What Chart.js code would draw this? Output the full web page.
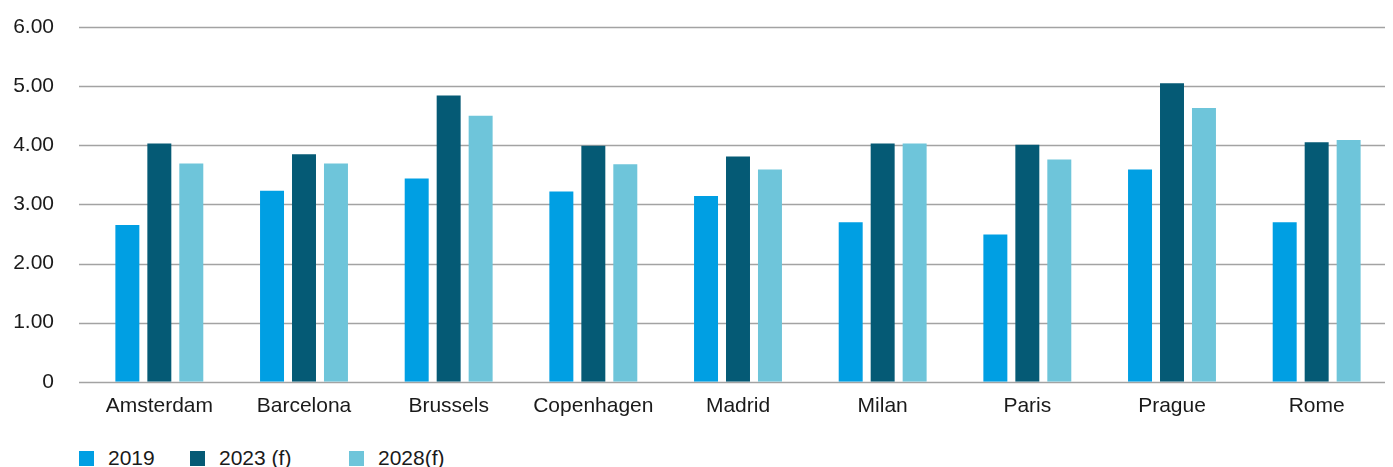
<!DOCTYPE html>
<html>
<head>
<meta charset="utf-8">
<script src="https://cdn.jsdelivr.net/npm/chart.js"></script>
<style>
  html, body { margin: 0; padding: 0; background: #fff; }
  #wrap { position: relative; width: 1393px; height: 467px; }
  #box { position: absolute; left: 0; top: 0; width: 1393px; height: 423px; }
  #legend { position: absolute; left: 79px; top: 446px; display: flex; font-family: "Liberation Sans", Arial, sans-serif; font-size: 21px; color: #1a1a1a; }
  #legend .item { display: flex; align-items: center; }
  #legend .item:nth-child(1) { width: 111px; }
  #legend .item:nth-child(2) { width: 159px; }
  #legend .swatch { width: 15px; height: 15px; margin-right: 14px; }
</style>
</head>
<body>
<div id="wrap">
  <div id="box"><canvas id="grafico"></canvas></div>
  <div id="legend"></div>
</div>
<script>
"use strict";
// Cidades e valores por ano
const cidades = ['Amsterdam', 'Barcelona', 'Brussels', 'Copenhagen', 'Madrid', 'Milan', 'Paris', 'Prague', 'Rome'];
const valores2019 = [2.65, 3.23, 3.44, 3.22, 3.14, 2.70, 2.49, 3.59, 2.70];
const valores2023 = [4.03, 3.85, 4.84, 3.99, 3.81, 4.03, 4.01, 5.05, 4.05];
const valores2028 = [3.69, 3.69, 4.50, 3.68, 3.59, 4.03, 3.76, 4.63, 4.09];
const rotulos = ['2019', '2023 (f)', '2028(f)'];
const cores = ['#009fe3', '#055a75', '#6ec5da'];

const fonte = { family: '"Liberation Sans", Arial, sans-serif', size: 21 };

// Linhas de grade horizontais desenhadas um pouco além da área das barras
const gradePlugin = {
  id: 'grade',
  beforeDatasetsDraw(chart) {
    const y = chart.scales.y;
    const ctx = chart.ctx;
    ctx.save();
    ctx.strokeStyle = '#a3a3a3';
    ctx.lineWidth = 1.3;
    y.ticks.forEach(t => {
      const py = Math.round(y.getPixelForValue(t.value)) + 0.5;
      ctx.beginPath();
      ctx.moveTo(79, py);
      ctx.lineTo(1385, py);
      ctx.stroke();
    });
    ctx.restore();
  }
};

const series = [valores2019, valores2023, valores2028];

const ctx = document.getElementById('grafico').getContext('2d');
new Chart(ctx, {
  type: 'bar',
  data: {
    labels: cidades,
    datasets: series.map((v, i) => ({
      label: rotulos[i],
      data: v,
      backgroundColor: cores[i],
      categoryPercentage: 0.663,
      barPercentage: 0.75
    }))
  },
  options: {
    responsive: true,
    maintainAspectRatio: false,
    animation: false,
    layout: { padding: { top: 27, right: 4, bottom: 0, left: 0 } },
    plugins: {
      legend: { display: false },
      tooltip: { enabled: false }
    },
    scales: {
      x: {
        grid: { display: false },
        border: { display: false },
        ticks: { font: fonte, color: '#1a1a1a', padding: 4, maxRotation: 0 }
      },
      y: {
        min: 0,
        max: 6,
        afterFit: (s) => { s.width = 87; s.paddingTop = 0; s.paddingBottom = 0; },
        grid: { display: false, drawTicks: false },
        border: { display: false },
        ticks: {
          stepSize: 1,
          font: fonte,
          color: '#1a1a1a',
          padding: 33,
          callback: (v) => v === 0 ? '0' : v.toFixed(2)
        }
      }
    }
  },
  plugins: [gradePlugin]
});

// Legenda em HTML
const legenda = document.getElementById('legend');
rotulos.forEach((r, i) => {
  const item = document.createElement('div');
  item.className = 'item';
  const sw = document.createElement('span');
  sw.className = 'swatch';
  sw.style.background = cores[i];
  const txt = document.createElement('span');
  txt.textContent = r;
  item.appendChild(sw);
  item.appendChild(txt);
  legenda.appendChild(item);
});
</script>
</body>
</html>
